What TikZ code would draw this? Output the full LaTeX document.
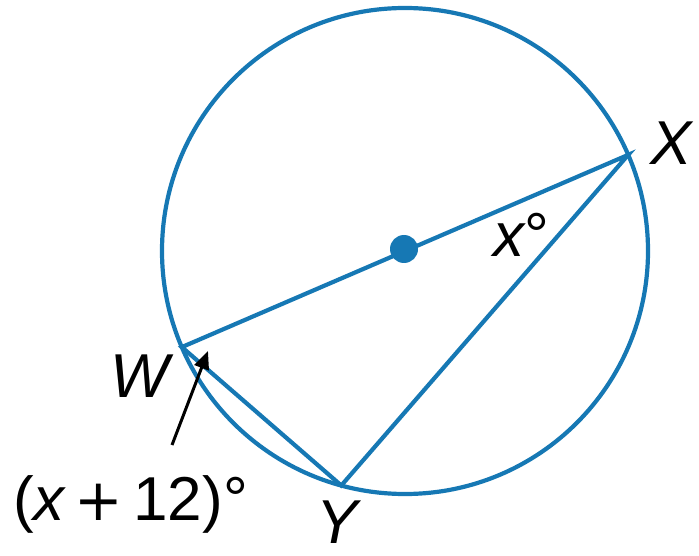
\documentclass[tikz,border=0pt]{standalone}
\usepackage{fontspec}
\setmainfont{Liberation Sans}
\newfontfamily\djv{DejaVu Sans}
\usetikzlibrary{arrows.meta,calc}
\definecolor{cblue}{RGB}{22,120,180}
\begin{document}
\begin{tikzpicture}[x=1pt,y=1pt,
  geo/.style={draw=cblue,line width=4.2pt},
  lbl/.style={anchor=base west,inner sep=0pt,font=\fontsize{62}{70}\selectfont\itshape},
  pointer/.style={draw=black,line width=3pt,-{Triangle[length=18pt,width=15pt]}}]
\useasboundingbox (0,0) rectangle (699,555);
\coordinate (O) at (405,304);
\draw[geo] (O) circle[radius=243];
\coordinate (X) at ($(O)+(23.3:243)$);
\coordinate (W) at ($(O)+(203.3:243)$);
\coordinate (Y) at ($(O)+(254.8:243)$);
\draw[geo,line join=miter] (W) -- (X) -- (Y) -- cycle;
\fill[cblue] (404,306) circle[radius=14];
\node[lbl] (lX) at (650,390) {X};
\node[lbl] (lW) at (110,158) {W};
\node[lbl] (lY) at (316,12) {Y};
\node[lbl] (lx) at (493,298) {x\upshape°};
\node[lbl] (lexp) at (13,35) {\upshape(\itshape x\upshape\hspace{10pt}{\djv\fontsize{58}{70}\selectfont +}\hspace{10pt}12)°};
\coordinate (tail) at (172,110);
\coordinate (tip) at (208,204);
\draw[pointer] (tail) -- (tip);
\end{tikzpicture}
\end{document}
